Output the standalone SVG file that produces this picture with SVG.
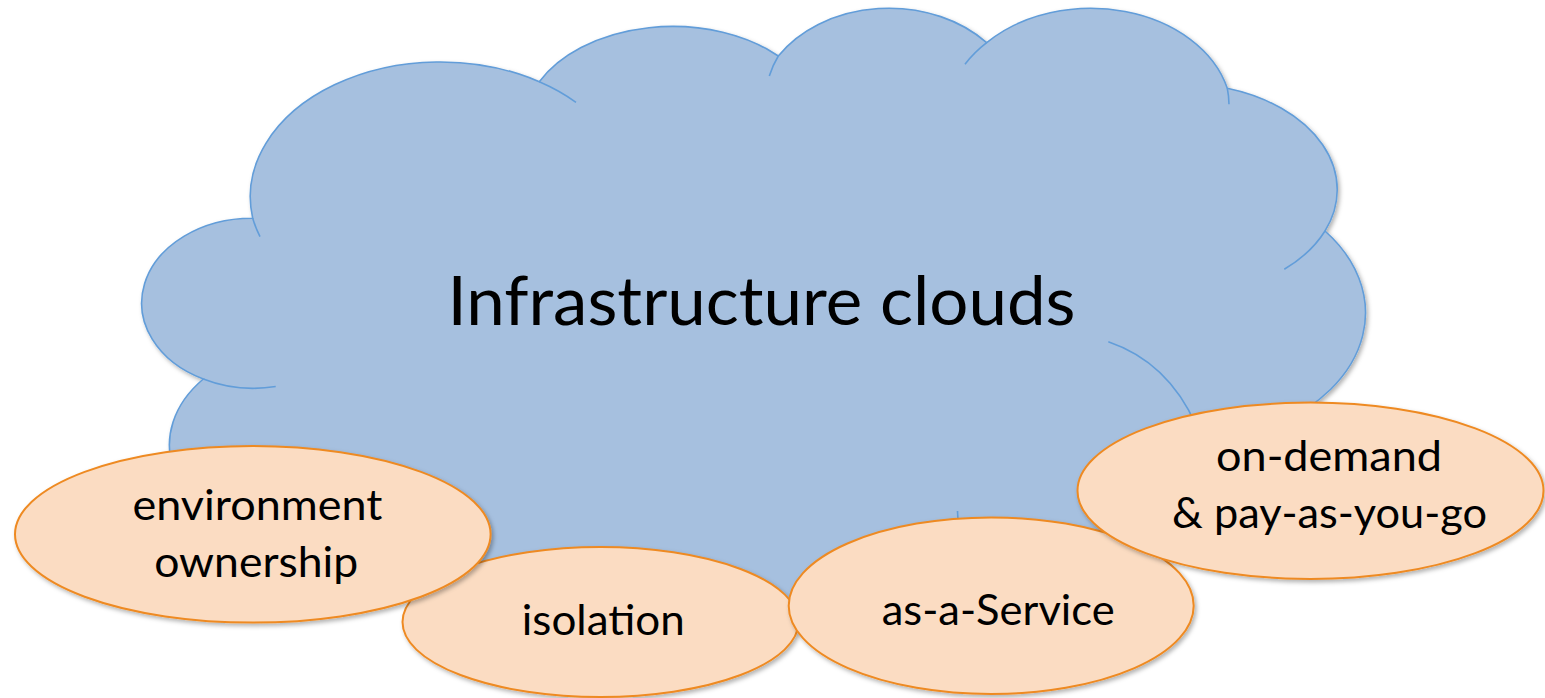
<svg xmlns="http://www.w3.org/2000/svg" width="1545" height="698" viewBox="0 0 1545 698">
  <defs>
    <filter id="shadow" x="-10%" y="-10%" width="120%" height="125%">
      <feDropShadow dx="2" dy="2.5" stdDeviation="2" flood-color="#000000" flood-opacity="0.3"/>
    </filter>
  </defs>
  <style>
    .cloud { fill: #A6C0DF; stroke: #629DD9; stroke-width: 1.6; }
    .fold { fill: none; stroke: #629DD9; stroke-width: 1.6; }
    .bubble { fill: #FBDCC2; stroke: #EE8A22; stroke-width: 2; filter: url(#shadow); }
    .label { font-family: Lato, "Open Sans", sans-serif; fill: #000000; text-anchor: middle; }
    .title { font-size: 67px; }
    .small { font-size: 43px; }
  </style>

  <!-- the cloud: outline built from elliptical bumps, plus the short fold lines -->
  <g id="cloud">
    <path class="cloud" filter="url(#shadow)" d="M252.7,218.3
      A190,135 0 0 1 539.3,81.7
      A149,100 0 0 1 778.3,56
      A131,103 0 0 1 986.7,42.7
      A141,106 0 0 1 1227.3,88.3
      A155,106 0 0 1 1325,231
      A185,131 0 0 1 1276,425
      L1200,540 L1150,560 L1000,630 L790,625 L600,645 L440,600 L300,560 L173.8,470
      A143,102 0 0 1 203.3,379
      A110.3,84.7 0 0 1 252.7,218.3 Z"/>
    <path class="fold" d="M252.7,218.3 A190,135 0 0 0 260,236.7"/>
    <path class="fold" d="M539.3,81.7 A190,135 0 0 1 576,102.3"/>
    <path class="fold" d="M778.3,56 A131,103 0 0 0 769.3,76"/>
    <path class="fold" d="M986.7,42.7 A141,106 0 0 0 965,64.3"/>
    <path class="fold" d="M1227.3,88.3 A141,106 0 0 1 1229,104.3"/>
    <path class="fold" d="M1325,231 A155,106 0 0 1 1284.3,269.3"/>
    <path class="fold" d="M203.3,379 A110.3,84.7 0 0 0 275.7,386.5"/>
    <path class="fold" d="M1108.3,341.7 Q1168,362 1196,425"/>
    <path class="fold" d="M957.5,511 L958.5,530"/>
    <text class="label title" x="761.5" y="325" textLength="628" lengthAdjust="spacingAndGlyphs">Infrastructure clouds</text>
  </g>

  <g id="connectors"/>

  <g id="isolation">
    <ellipse class="bubble" cx="600.5" cy="622" rx="198" ry="75"/>
    <text class="label small" x="603.3" y="635" textLength="163" lengthAdjust="spacingAndGlyphs">isolation</text>
  </g>

  <g id="environment-ownership">
    <ellipse class="bubble" cx="252.8" cy="534.3" rx="237.8" ry="88.3"/>
    <text class="label small" x="257.5" y="520" textLength="250" lengthAdjust="spacingAndGlyphs">environment</text>
    <text class="label small" x="256.2" y="577" textLength="204" lengthAdjust="spacingAndGlyphs">ownership</text>
  </g>

  <g id="as-a-service">
    <ellipse class="bubble" cx="991.2" cy="605.7" rx="202.5" ry="88.3"/>
    <text class="label small" x="998.2" y="625" textLength="233" lengthAdjust="spacingAndGlyphs">as-a-Service</text>
  </g>

  <g id="on-demand">
    <ellipse class="bubble" cx="1310.5" cy="490.8" rx="233" ry="88.2"/>
    <text class="label small" x="1329" y="470.7" textLength="226" lengthAdjust="spacingAndGlyphs">on-demand</text>
    <text class="label small" x="1329.5" y="528.3" textLength="315" lengthAdjust="spacingAndGlyphs">&amp; pay-as-you-go</text>
  </g>
</svg>
